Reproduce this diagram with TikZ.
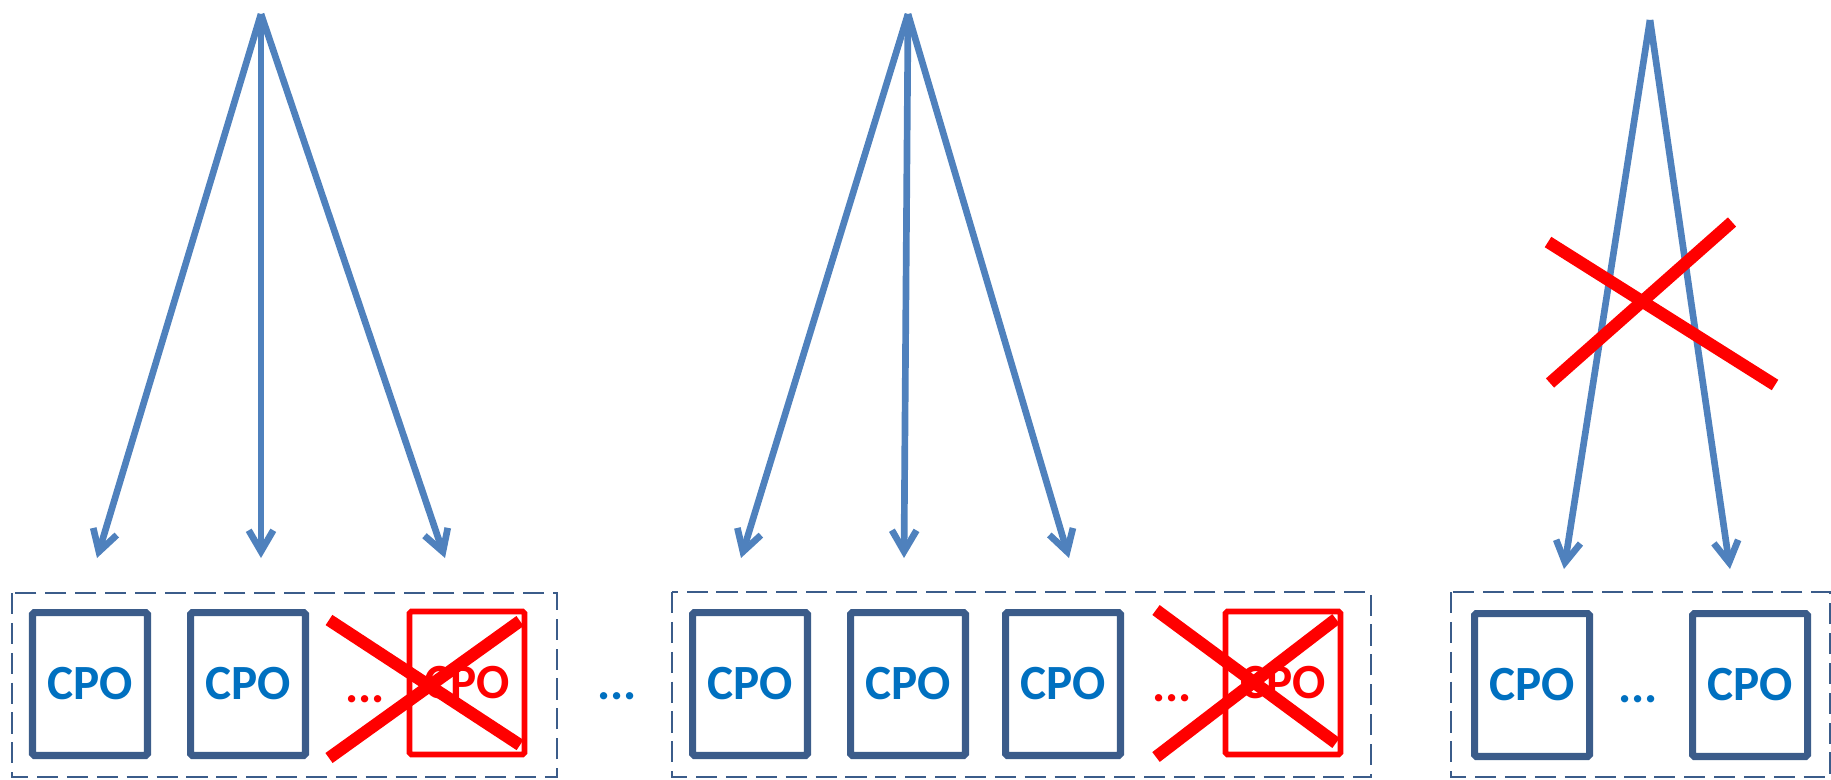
\documentclass[tikz,border=0pt]{standalone}
\usepackage{fontspec}
\setmainfont{Carlito}
\usetikzlibrary{arrows.meta}
\definecolor{boxblue}{RGB}{59,92,138}
\definecolor{arrowblue}{RGB}{79,129,189}
\definecolor{cpoblue}{RGB}{0,112,192}
\definecolor{crossred}{RGB}{255,0,0}

\begin{document}
\begin{tikzpicture}[x=0.02cm, y=-0.02cm,
        font=\fontsize{28}{32}\selectfont\bfseries,
        cpo/.style={draw=boxblue, line width=4pt, rounded corners=1pt, text=cpoblue,
            minimum width=2.3cm, minimum height=2.86cm, inner sep=0pt},
        cpodead/.style={cpo, draw=crossred, text=crossred, line width=3.2pt},
        dots/.style={anchor=base, text=cpoblue, inner sep=0pt},
        group/.style={draw=boxblue, line width=1.4pt, dash pattern=on 12pt off 5pt},
        link/.style={draw=arrowblue, line width=3.8pt, -{Straight Barb[length=12pt,width=14pt]}},
        cross/.style={draw=crossred, line width=7pt}]
        \useasboundingbox (0,0) rectangle (1831,779);

        % Group 1 - dashed frame with two CPOs and one crossed out
        \draw[group] (12,593) rectangle (557,777);
        \node[cpo] (c11) at (90,684) {CPO};
        \node[cpo] (c12) at (248,684) {CPO};
        \node[dots, text=crossred] (d11) at (365,702) {...};
        \node[cpodead] (c13) at (467,683) {CPO};
        \draw[cross] (329,620) -- (520,745);
        \draw[cross] (329,758) -- (520,621);

        % Arrows of group 1
        \coordinate (top1) at (261,14);
        \coordinate (t11) at (97,558);
        \coordinate (t12) at (261,558);
        \coordinate (t13) at (445,558);
        \draw[link] (top1) -- (t11);
        \draw[link] (top1) -- (t12);
        \draw[link] (top1) -- (t13);

        % Dots between group 1 and group 2
        \node[dots] (d0) at (617,699) {...};

        % Group 2 - three CPOs and one crossed out
        \draw[group] (672,592) rectangle (1371,777);
        \node[cpo] (c21) at (750,684) {CPO};
        \node[cpo] (c22) at (908,684) {CPO};
        \node[cpo] (c23) at (1063,684) {CPO};
        \node[dots, text=crossred] (d21) at (1172,701) {...};
        \node[cpodead] (c24) at (1283,683) {CPO};
        \draw[cross] (1156,610) -- (1336,743);
        \draw[cross] (1156,757) -- (1336,619);

        % Arrows of group 2
        \coordinate (top2) at (908,14);
        \coordinate (t21) at (741,558);
        \coordinate (t22) at (904,558);
        \coordinate (t23) at (1069,558);
        \draw[link] (top2) -- (t21);
        \draw[link] (top2) -- (t22);
        \draw[link] (top2) -- (t23);

        % Group 3 - two CPOs
        \draw[group] (1451,592) rectangle (1830,777);
        \node[cpo] (c31) at (1532,685) {CPO};
        \node[dots] (d31) at (1638,702) {...};
        \node[cpo] (c32) at (1750,685) {CPO};

        % Arrows of group 3, crossed out
        \coordinate (top3) at (1650,20);
        \coordinate (t31) at (1564,569);
        \coordinate (t32) at (1730,569);
        \draw[link] (top3) -- (t31);
        \draw[link] (top3) -- (t32);
        \draw[cross] (1548,242) -- (1775,385);
        \draw[cross] (1550,383) -- (1732,222);
    \end{tikzpicture}
\end{document}
